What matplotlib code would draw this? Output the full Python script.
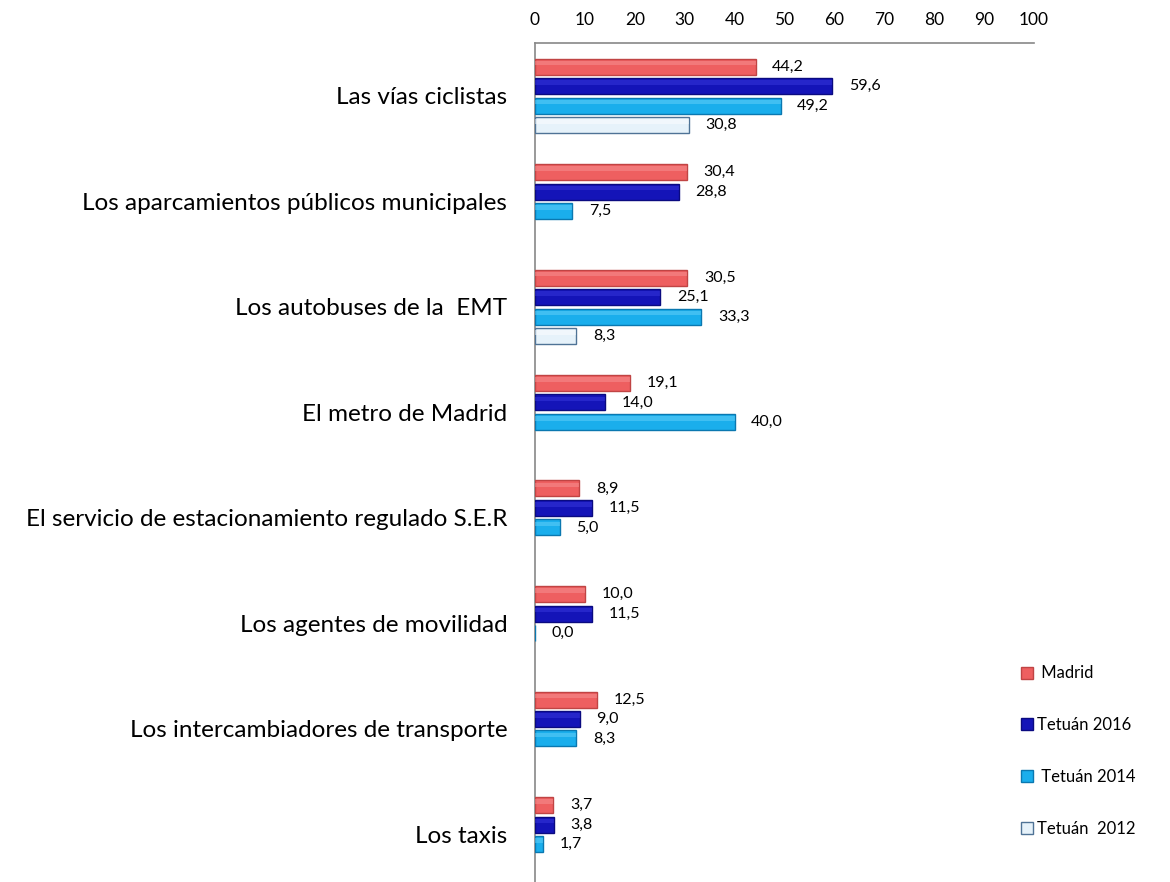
import numpy as np
import matplotlib
matplotlib.use("Agg")
import matplotlib.pyplot as plt
from matplotlib.lines import Line2D

categories = [
    "Las vías ciclistas",
    "Los aparcamientos públicos municipales",
    "Los autobuses de la  EMT",
    "El metro de Madrid",
    "El servicio de estacionamiento regulado S.E.R",
    "Los agentes de movilidad",
    "Los intercambiadores de transporte",
    "Los taxis",
]
series_names = [" Madrid", "Tetuán 2016", " Tetuán 2014", "Tetuán  2012"]
madrid = [44.2, 30.4, 30.5, 19.1, 8.9, 10.0, 12.5, 3.7]
tetuan_2016 = [59.6, 28.8, 25.1, 14.0, 11.5, 11.5, 9.0, 3.8]
tetuan_2014 = [49.2, 7.5, 33.3, 40.0, 5.0, 0.0, 8.3, 1.7]
tetuan_2012 = [30.8, None, 8.3, None, None, None, None, None]
xticks = [0, 10, 20, 30, 40, 50, 60, 70, 80, 90, 100]

series = [madrid, tetuan_2016, tetuan_2014, tetuan_2012]
faces = ["#EE5F60", "#1414B8", "#1AAEEC", "#E6F2FA"]
edges = ["#C04444", "#0A0A80", "#0A78B0", "#4F7396"]
highlights = ["#F89A9A", "#3C3CE0", "#70D4FA", "#FFFFFF"]

plt.rcParams['font.family'] = ['Lato', 'DejaVu Sans']

fig = plt.figure(figsize=(11.70, 8.82), dpi=100)
W, H = 1170, 882
left_px, right_px, top_px = 535, 1034, 43
ax = fig.add_axes([left_px / W, 0.0, (right_px - left_px) / W, 1 - top_px / H])

band_px = 105.5
slot = 19.5 / band_px
bh = 16.0 / band_px
y_bottom = -0.5 + (H - top_px) / band_px

idx = np.arange(len(categories))
for s, (vals, fc, ec, hc) in enumerate(zip(series, faces, edges, highlights)):
    ys = idx + (s - 1.5) * slot
    for y, v in zip(ys, vals):
        if v is None:
            continue
        ax.barh(y, v, height=bh, color=fc, edgecolor=ec, linewidth=1.0, zorder=3)
        if v > 0:
            ax.barh(y - bh * 0.22, v, height=bh * 0.28, color=hc, alpha=0.45,
                    linewidth=0, zorder=4)
        ax.annotate(f"{v:.1f}".replace(".", ","), xy=(v, y), xytext=(12, 0),
                    textcoords="offset points", ha="left", va="center",
                    fontsize=11.5, color="#000000", zorder=5)

ax.set_xlim(0, 100)
ax.set_ylim(y_bottom, -0.5)
ax.set_xticks(xticks)
ax.set_xticklabels([str(t) for t in xticks], fontsize=12.5)
ax.xaxis.tick_top()
ax.set_yticks(idx)
ax.set_yticklabels(categories, fontsize=17.5)
ax.tick_params(axis="x", length=0, pad=11)
ax.tick_params(axis="y", length=0, pad=20)
for side in ["right", "bottom"]:
    ax.spines[side].set_visible(False)
for side in ["top", "left"]:
    ax.spines[side].set_color("#888888")
    ax.spines[side].set_linewidth(1.2)

handles = [Line2D([0], [0], marker="s", linestyle="none", markersize=8,
                  markerfacecolor=fc, markeredgecolor=ec)
           for fc, ec in zip(faces, edges)]
fig.legend(handles, series_names, loc="upper left",
           bbox_to_anchor=(1014 / W, 1 - 657 / H), frameon=False,
           fontsize=12, handlelength=0.6, handletextpad=0.3,
           labelspacing=2.15, borderpad=0)

fig.savefig("out.png", dpi=100)
